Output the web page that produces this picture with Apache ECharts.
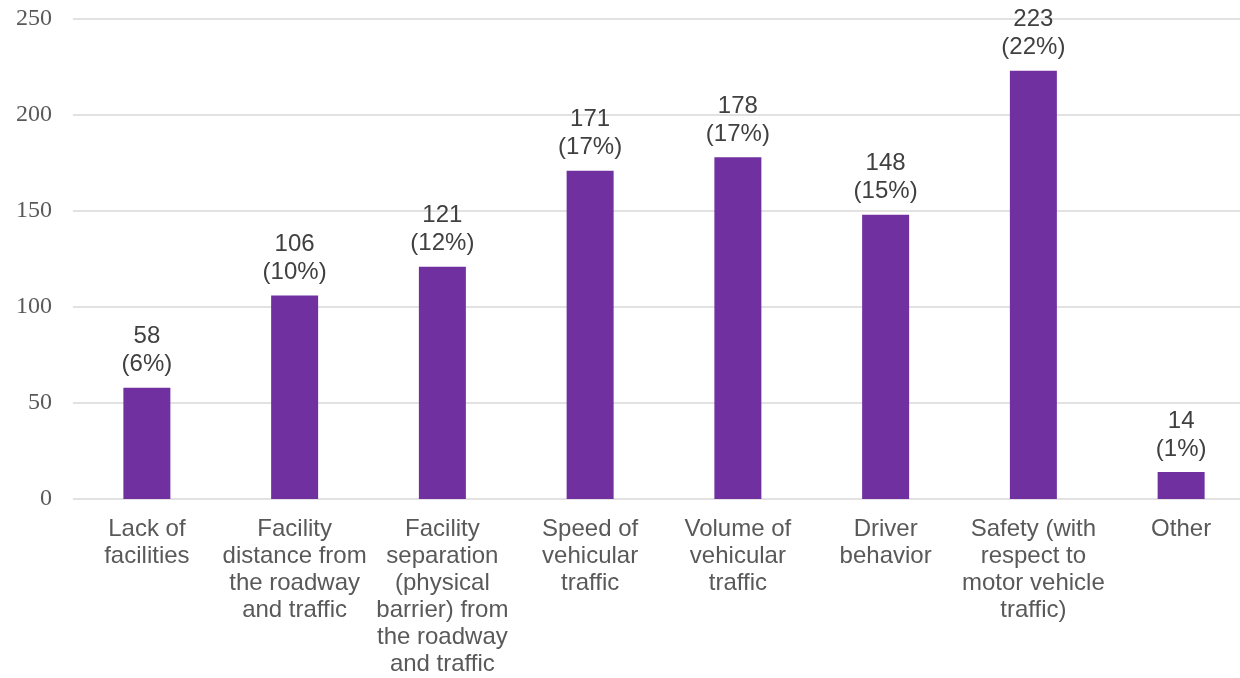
<!DOCTYPE html>
<html>
<head>
<meta charset="utf-8">
<script src="https://cdn.jsdelivr.net/npm/echarts@6/dist/echarts.min.js"></script>
<style>
  html, body { margin: 0; padding: 0; background: #fff; overflow: hidden; }
  /* the plot runs a little past the right edge of the window, like the original */
  #chart { width: 1255px; height: 678px; }
</style>
</head>
<body>
<div id="chart"></div>
<script>
var categories = [
  'Lack of\nfacilities',
  'Facility\ndistance from\nthe roadway\nand traffic',
  'Facility\nseparation\n(physical\nbarrier) from\nthe roadway\nand traffic',
  'Speed of\nvehicular\ntraffic',
  'Volume of\nvehicular\ntraffic',
  'Driver\nbehavior',
  'Safety (with\nrespect to\nmotor vehicle\ntraffic)',
  'Other'
];
var counts = [58, 106, 121, 171, 178, 148, 223, 14];
var percents = [6, 10, 12, 17, 17, 15, 22, 1];
var yTicks = { min: 0, max: 250, interval: 50 };

var myChart = echarts.init(document.getElementById('chart'));
var option = {
  animation: false,
  grid: {
    left: 73,
    right: 0,
    top: 19,
    bottom: 178,
    containLabel: false
  },
  xAxis: {
    type: 'category',
    data: categories,
    axisLine: { show: false },
    axisTick: { show: false },
    axisLabel: {
      interval: 0,
      margin: 17,
      color: '#595959',
      fontFamily: 'Liberation Sans, Arial, sans-serif',
      fontSize: 24,
      lineHeight: 27,
      align: 'center'
    }
  },
  yAxis: {
    type: 'value',
    min: yTicks.min,
    max: yTicks.max,
    interval: yTicks.interval,
    axisLine: { show: false },
    axisTick: { show: false },
    axisLabel: {
      margin: 21,
      color: '#595959',
      fontFamily: 'Liberation Serif, Times New Roman, serif',
      fontSize: 24
    },
    splitLine: { lineStyle: { color: '#d9d9d9', width: 1.5 } }
  },
  series: [
    {
      type: 'bar',
      data: counts,
      barWidth: 47,
      itemStyle: { color: '#7030a0' },
      label: {
        show: true,
        position: 'top',
        distance: 9,
        color: '#404040',
        fontFamily: 'Liberation Sans, Arial, sans-serif',
        fontSize: 24,
        lineHeight: 28,
        align: 'center',
        formatter: function (p) {
          return p.value + '\n(' + percents[p.dataIndex] + '%)';
        }
      }
    }
  ]
};
myChart.setOption(option);
</script>
</body>
</html>
